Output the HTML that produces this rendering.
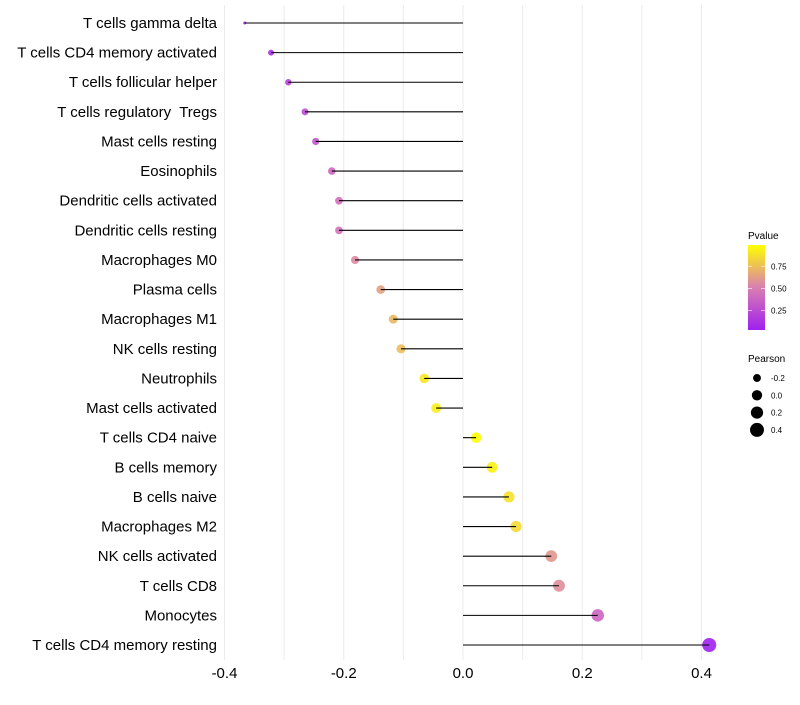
<!DOCTYPE html>
<html><head><meta charset="utf-8"><style>
body{margin:0;background:#fff;}
svg{font-family:"Liberation Sans",sans-serif;}
</style></head><body>
<svg id="chart" width="800" height="700">
<defs><linearGradient id="pg" x1="0" y1="1" x2="0" y2="0">
<stop offset="0" stop-color="#a020f0"/><stop offset="0.5" stop-color="#d97fb0"/><stop offset="1" stop-color="#ffff00"/>
</linearGradient></defs>
<g id="grid"></g>
<g id="marks"></g>
<g id="ylabels"></g>
<g id="xlabels"></g>
<g>
<text x="748" y="239" font-size="10">Pvalue</text>
<rect x="748" y="245" width="17" height="85" fill="url(#pg)"/>
<g id="cbticks"></g>
</g>
<g id="sizelegend">
<text x="748" y="362" font-size="10">Pearson</text>
</g>
</svg>
<script>
const categories=["T cells gamma delta","T cells CD4 memory activated","T cells follicular helper","T cells regulatory  Tregs","Mast cells resting","Eosinophils","Dendritic cells activated","Dendritic cells resting","Macrophages M0","Plasma cells","Macrophages M1","NK cells resting","Neutrophils","Mast cells activated","T cells CD4 naive","B cells memory","B cells naive","Macrophages M2","NK cells activated","T cells CD8","Monocytes","T cells CD4 memory resting"];
const pearson=[-0.366,-0.322,-0.293,-0.265,-0.247,-0.220,-0.208,-0.208,-0.181,-0.138,-0.117,-0.104,-0.065,-0.045,0.022,0.049,0.077,0.089,0.148,0.161,0.226,0.413];
const pvalue=[0.03,0.12,0.2,0.25,0.3,0.4,0.44,0.45,0.55,0.64,0.72,0.74,0.9,0.93,0.99,0.94,0.88,0.85,0.6,0.57,0.38,0.03];
const xTicks=[-0.4,-0.2,0.0,0.2,0.4];
const xMinor=[-0.3,-0.1,0.1,0.3];
const cbTicks=[0.25,0.5,0.75];
const sizeLegend=[-0.2,0.0,0.2,0.4];
const NS="http://www.w3.org/2000/svg";
function X(v){return 463+v*596.25;}
function Y(i){return 23+i*(622/21);}
function R(v){
 let a2;
 if(v<-0.32){a2=2.25+Math.max(0,(v+0.366)/0.046)*6.75;}
 else{a2=9+(v+0.32)*55;}
 return Math.sqrt(a2);
}
function lerp(a,b,t){return a+(b-a)*t;}
function color(p){
 const s=[[160,32,240],[217,127,176],[255,255,0]];
 let t=Math.min(1,Math.max(0,(p-0.03)/0.96));
 let a,b,u; if(t<0.5){a=s[0];b=s[1];u=t*2;}else{a=s[1];b=s[2];u=(t-0.5)*2;}
 return `rgb(${Math.round(lerp(a[0],b[0],u))},${Math.round(lerp(a[1],b[1],u))},${Math.round(lerp(a[2],b[2],u))})`;
}
function mk(tag,attrs,parent){const e=document.createElementNS(NS,tag);for(const k in attrs)e.setAttribute(k,attrs[k]);parent.appendChild(e);return e;}
const grid=document.getElementById('grid'),marks=document.getElementById('marks'),yl=document.getElementById('ylabels'),xl=document.getElementById('xlabels');
xMinor.concat(xTicks).forEach(v=>{
 const l=mk('line',{x1:X(v),x2:X(v),y1:5,y2:660,stroke:'#ebebeb','stroke-width':1},grid);
 
 
});
xTicks.forEach(v=>{
 const t=mk('text',{x:X(v),y:678,'font-size':15,'text-anchor':'middle',fill:'#000'},xl);
 t.textContent=v.toFixed(1);
 
 
});
categories.forEach((c,i)=>{
 const y=Y(i);
 const t=mk('text',{x:217,y:y+5,'font-size':15,'text-anchor':'end',fill:'#000'},yl);
 t.style.whiteSpace='pre';
 t.textContent=c;
 
 
 const d=mk('circle',{cx:X(pearson[i]),cy:y,r:R(pearson[i]),fill:color(pvalue[i]),'fill-opacity':0.9},marks);
 
 
 const l=mk('line',{x1:X(0),x2:X(pearson[i]),y1:y,y2:y,stroke:'#000','stroke-width':1.1},marks);
 
 
});
const cb=document.getElementById('cbticks');
cbTicks.forEach(p=>{
 const y=330-(p-0.03)/0.96*85;
 const tk=mk('line',{x1:748,x2:752,y1:y,y2:y,stroke:'#fff','stroke-width':0.6},cb);
 
 
 const tk2=mk('line',{x1:761,x2:765,y1:y,y2:y,stroke:'#fff','stroke-width':0.6},cb);
 
 
 const t=mk('text',{x:771,y:y+3,'font-size':8},cb);
 t.textContent=p.toFixed(2);
 
 
});
const sl=document.getElementById('sizelegend');
sizeLegend.forEach((v,i)=>{
 const y=378+i*17.3;
 const c=mk('circle',{cx:757,cy:y,r:R(v),fill:'#000'},sl);
 
 
 const t=mk('text',{x:771,y:y+3,'font-size':8},sl);
 t.textContent=v.toFixed(1);
 
 
});
</script>
</body></html>
